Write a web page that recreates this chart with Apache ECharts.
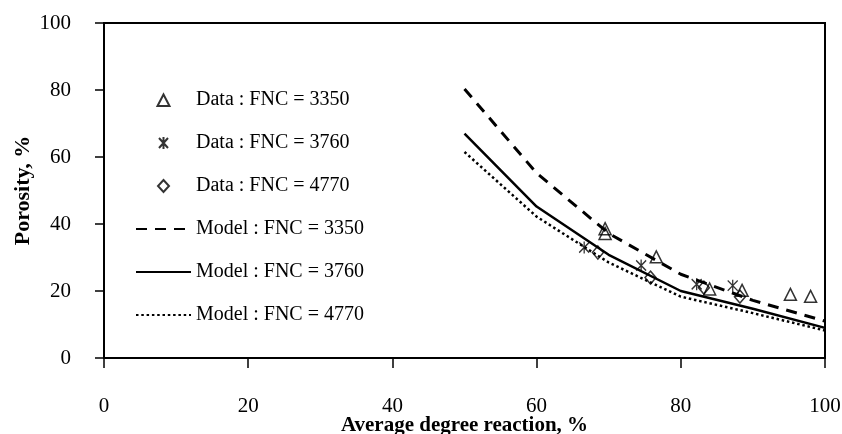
<!DOCTYPE html>
<html>
<head>
<meta charset="utf-8">
<script src="https://cdn.jsdelivr.net/npm/echarts@6/dist/echarts.min.js"></script>
<style>
  html, body { margin: 0; padding: 0; background: #fff; }
  #chart { width: 842px; height: 434px; }
</style>
</head>
<body>
<div id="chart"></div>
<script>
// Axis ticks
const xTicks = [0, 20, 40, 60, 80, 100];
const yTicks = [0, 20, 40, 60, 80, 100];

// Measured porosity (x = average degree of reaction %, y = porosity %)
const data3350 = [[69.5, 38.6], [69.5, 37.2], [76.6, 30.2], [84.0, 20.6], [88.5, 20.2], [95.2, 19.0], [98.0, 18.4]];
const data3760 = [[66.6, 33.0], [74.5, 27.6], [82.2, 22.0], [87.2, 21.6]];
const data4770 = [[68.5, 31.5], [75.8, 24.0], [83.2, 21.0], [88.2, 18.3]];

// Model curves
const modelX = [50, 60, 70, 80, 90, 100];
const model3350 = [80.3, 55.2, 37.2, 25.0, 17.2, 11.0];
const model3760 = [67.0, 45.2, 30.8, 20.0, 14.7, 9.0];
const model4770 = [61.5, 42.2, 28.5, 18.3, 13.4, 8.2];

const pairs = (xs, ys) => xs.map((x, i) => [x, ys[i]]);

const serif = "'Liberation Serif', 'Times New Roman', serif";
const hollow = { color: 'rgba(0,0,0,0)', borderColor: '#000', borderWidth: 1.5 };
const asterisk = 'path://M0,0L10,12M10,0L0,12M5,-1L5,13';

// Legend markers: a small glyph centred in a 55x14 box (the box corners keep the glyph unstretched)
const box = 'path://M0,0M55,14';
const legendTriangle = box + 'M21.5,13L27.5,1.5L33.5,13Z';
const legendAsterisk = box + 'M23,2L32,12M32,2L23,12M27.5,1L27.5,13';
const legendDiamond = box + 'M27.5,1L33,7L27.5,13L22,7Z';
const noMarker = { opacity: 0 };

const chart = echarts.init(document.getElementById('chart'));
chart.setOption({
  animation: false,
  backgroundColor: '#fff',
  textStyle: { fontFamily: serif, color: '#000' },
  grid: {
    left: 104, right: 17, top: 23, bottom: 76,
    containLabel: false, outerBoundsMode: 'none',
    show: true, borderColor: '#000', borderWidth: 2, backgroundColor: 'transparent'
  },
  legend: {
    orient: 'vertical',
    left: 130,
    top: 85,
    itemWidth: 55,
    itemHeight: 14,
    itemGap: 23,
    textStyle: { fontFamily: serif, fontSize: 20, color: '#000' },
    data: [
      { name: 'Data : FNC = 3350', icon: legendTriangle },
      { name: 'Data : FNC = 3760', icon: legendAsterisk },
      { name: 'Data : FNC = 4770', icon: legendDiamond },
      { name: 'Model : FNC = 3350', itemStyle: noMarker },
      { name: 'Model : FNC = 3760', itemStyle: noMarker },
      { name: 'Model : FNC = 4770', itemStyle: noMarker }
    ]
  },
  xAxis: {
    type: 'value',
    min: xTicks[0],
    max: xTicks[xTicks.length - 1],
    interval: 20,
    name: 'Average degree reaction, %',
    nameLocation: 'middle',
    nameGap: 57,
    nameMoveOverlap: false,
    nameTextStyle: { fontFamily: serif, fontSize: 21, fontWeight: 'bold', color: '#000' },
    axisLine: { show: true, lineStyle: { color: '#000', width: 2 } },
    axisTick: { show: true, inside: false, length: 10, lineStyle: { color: '#000', width: 1.5 } },
    axisLabel: { margin: 38, fontFamily: serif, fontSize: 21, color: '#000' },
    splitLine: { show: false }
  },
  yAxis: {
    type: 'value',
    min: yTicks[0],
    max: yTicks[yTicks.length - 1],
    interval: 20,
    name: 'Porosity, %',
    nameLocation: 'middle',
    nameGap: 70,
    nameMoveOverlap: false,
    nameTextStyle: { fontFamily: serif, fontSize: 22, fontWeight: 'bold', color: '#000' },
    axisLine: { show: true, lineStyle: { color: '#000', width: 2 } },
    axisTick: { show: true, inside: false, length: 9, lineStyle: { color: '#000', width: 1.5 } },
    axisLabel: { margin: 33, fontFamily: serif, fontSize: 21, color: '#000' },
    splitLine: { show: false }
  },
  series: [
    {
      name: 'Data : FNC = 3350', type: 'scatter', symbol: 'triangle', symbolSize: 12,
      itemStyle: hollow, data: data3350, z: 5
    },
    {
      name: 'Data : FNC = 3760', type: 'scatter', symbol: asterisk, symbolSize: [10, 12],
      itemStyle: { color: 'rgba(0,0,0,0)', borderColor: '#000', borderWidth: 1.4 }, data: data3760, z: 5
    },
    {
      name: 'Data : FNC = 4770', type: 'scatter', symbol: 'diamond', symbolSize: [11, 13],
      itemStyle: hollow, data: data4770, z: 5
    },
    {
      name: 'Model : FNC = 3350', type: 'line', symbol: 'none', smooth: false,
      lineStyle: { color: '#000', width: 3, type: [11, 8] },
      itemStyle: { color: '#000' },
      data: pairs(modelX, model3350)
    },
    {
      name: 'Model : FNC = 3760', type: 'line', symbol: 'none', smooth: false,
      lineStyle: { color: '#000', width: 2.5, type: 'solid' },
      itemStyle: { color: '#000' },
      data: pairs(modelX, model3760)
    },
    {
      name: 'Model : FNC = 4770', type: 'line', symbol: 'none', smooth: false,
      lineStyle: { color: '#000', width: 2.5, type: [2.5, 2.8] },
      itemStyle: { color: '#000' },
      data: pairs(modelX, model4770)
    }
  ]
});
</script>
</body>
</html>
